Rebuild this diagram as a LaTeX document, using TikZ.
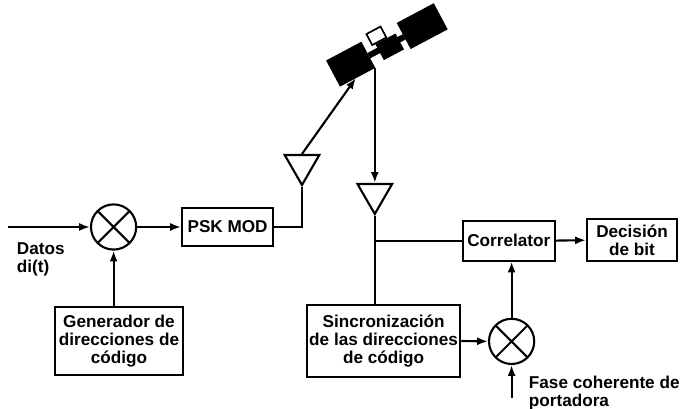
\documentclass[tikz,border=0pt]{standalone}
\usepackage{fontspec}
\setmainfont{Liberation Sans}
\usetikzlibrary{shapes.geometric, arrows.meta}

\begin{document}
\begin{tikzpicture} [scale = 1,
  >={Latex[length=2.7mm, width=2mm]},
  every node/.style = {font=\fontsize{12.2}{12.8}\selectfont\bfseries},
  link/.style = {black, line width=1.5pt},
  block/.style = {draw, black, line width=1.5pt, align=center, inner sep=0pt},
  mixer/.style = {draw, black, line width=1.5pt, circle, minimum size=1.13cm, inner sep=0pt,
    path picture={\draw[line width=1.5pt]
      (path picture bounding box.north west) -- (path picture bounding box.south east)
      (path picture bounding box.north east) -- (path picture bounding box.south west);}},
  antenna/.style = {draw, black, line width=1.5pt, regular polygon, regular polygon sides=3,
    shape border rotate=180, minimum size=1.0cm, inner sep=0pt}]
\useasboundingbox (0, 0) rectangle (17, 10.225);

% transmitter
\coordinate (in) at (0.2, 4.55);
\node[mixer] (mix1) at (2.84, 4.55) {};
\node[block, minimum width=2.275cm, minimum height=0.95cm] (psk) at (5.69, 4.55) {PSK MOD};
\node[antenna] (ant1) at (7.55, 6.1) {};
\node[block, minimum width=3.2cm, minimum height=1.7cm] (gen) at (2.975, 1.7) {Generador de\\direcciones de\\código};
\node[anchor=west, align=left] (datos) at (0.3, 3.74) {Datos\\di(t)};

% satellite
\begin{scope}[shift={(9.65, 9.09)}, rotate=28]
\fill[black] (-1.5, -0.37) rectangle (-0.5, 0.37);
\fill[black] (0.5, -0.37) rectangle (1.55, 0.37);
\fill[black] (-0.5, -0.1) rectangle (0.5, 0.05);
\fill[black] (-0.22, -0.3) rectangle (0.35, 0.15);
\draw[black, fill = white, line width=1.2pt] (-0.3, 0.17) rectangle (0.1, 0.48);
\coordinate (sat-in) at (-1.05, -0.37);
\coordinate (sat-out) at (-0.5, -0.37);
\end{scope}

% receiver
\node[antenna] (ant2) at (9.37, 5.375) {};
\node[block, minimum width=2.3cm, minimum height=1.0cm] (corr) at (12.72, 4.21) {Correlator};
\node[block, minimum width=2.25cm, minimum height=1.05cm] (dec) at (15.8, 4.22) {Decisión\\de bit};
\node[block, minimum width=3.83cm, minimum height=1.78cm] (sync) at (9.59, 1.7) {Sincronización\\de las direcciones\\de código};
\node[mixer] (mix2) at (12.79, 1.69) {};
\coordinate (carrier) at (12.79, 0.28);
\node[anchor=west, align=left] (fase) at (13.1, 0.39) {Fase coherente de\\portadora};

\draw[->, link] (in) -- (mix1.west);
\draw[->, link] (mix1.east) -- (psk.west);
\draw[->, link] (gen.north -| mix1.south) -- (mix1.south);
\draw[link] (psk.east) -| (ant1.south);
\draw[->, link] (ant1.north) -- (sat-in);
\draw[->, link] (ant2.north |- sat-out) -- (ant2.north);
\draw[link] (ant2.south) -- (ant2.south |- sync.north);
\draw[link] (ant2.south |- corr.west) -- (corr.west);
\draw[->, link] (corr.east) -- (dec.west);
\draw[->, link] (sync.east) -- (mix2.west);
\draw[->, link] (mix2.north) -- (mix2.north |- corr.south);
\draw[->, link] (carrier) -- (mix2.south);
\end{tikzpicture}
\end{document}
